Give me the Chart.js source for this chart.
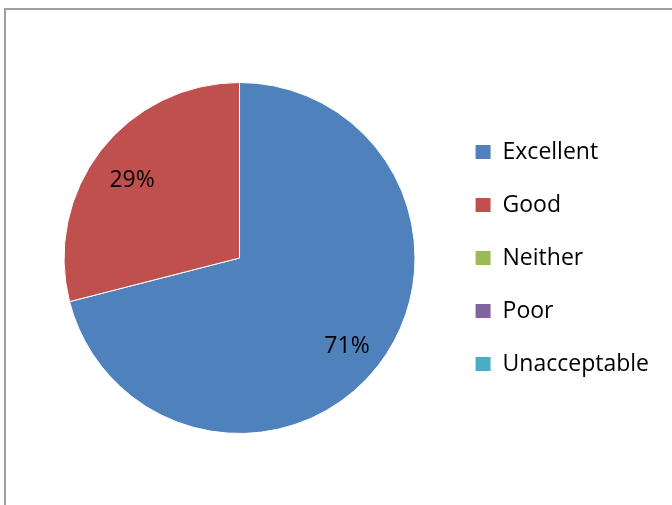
<!DOCTYPE html>
<html>
<head>
<meta charset="utf-8">
<script src="https://cdn.jsdelivr.net/npm/chart.js@4.4.1/dist/chart.umd.min.js"></script>
<style>
  html, body { margin: 0; padding: 0; background: #fff; overflow: hidden; }
  #wrap { position: relative; width: 672px; height: 505px; }
  #frame { position: absolute; left: 4px; top: 8px; width: 720px; height: 560px;
           border-left: 2px solid #a0a0a0; border-top: 2px solid #a0a0a0; }
  #myChart { position: absolute; left: 0; top: 0; }
</style>
</head>
<body>
<div id="wrap">
  <div id="frame"></div>
  <canvas id="myChart" width="672" height="505"></canvas>
</div>
<script>
var categories = ["Excellent", "Good", "Neither", "Poor", "Unacceptable"];
var shares = [71, 29, 0, 0, 0];
var sliceColors = ['#4F81BD', '#C0504D', '#9BBB59', '#8064A2', '#4BACC6'];

// percentage text inside the slices
var sliceLabels = {
  id: 'sliceLabels',
  afterDatasetsDraw: function(chart) {
    var ctx = chart.ctx;
    var meta = chart.getDatasetMeta(0);
    ctx.save();
    ctx.font = '23px "Open Sans"';
    ctx.fillStyle = '#000';
    ctx.textAlign = 'center';
    ctx.textBaseline = 'alphabetic';
    meta.data.forEach(function(arc, i) {
      if (!shares[i]) return;
      var mid = (arc.startAngle + arc.endAngle) / 2;
      var r = arc.outerRadius * 0.775;
      // baseline sits a bit under the label's centre point
      ctx.fillText(shares[i] + '%', arc.x + Math.cos(mid) * r, arc.y + Math.sin(mid) * r + 12);
    });
    ctx.restore();
  }
};

var ctx = document.getElementById('myChart').getContext('2d');
var myChart = new Chart(ctx, {
  type: 'pie',
  data: {
    labels: categories,
    datasets: [{
      data: shares,
      backgroundColor: sliceColors,
      borderColor: '#ffffff',
      borderWidth: 1
    }]
  },
  options: {
    responsive: false,
    animation: false,
    layout: { padding: { left: 34, right: 13, top: 82, bottom: 71 } },
    plugins: {
      tooltip: { enabled: false },
      legend: {
        position: 'right',
        labels: {
          boxWidth: 16,
          boxHeight: 15,
          padding: 30,
          color: '#000',
          font: { family: '"Open Sans"', size: 23 }
        }
      }
    }
  },
  plugins: [sliceLabels]
});
</script>
</body>
</html>
